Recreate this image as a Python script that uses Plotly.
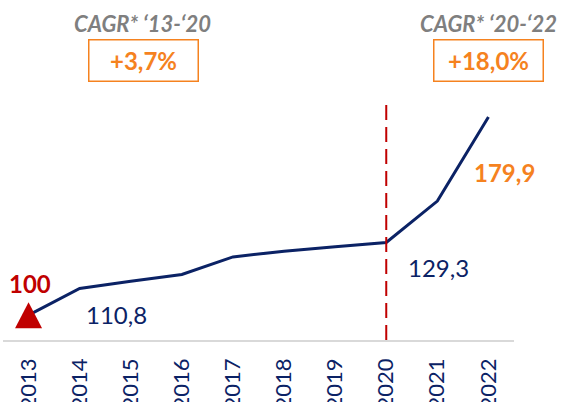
import plotly.graph_objects as go

years = ["2013", "2014", "2015", "2016", "2017", "2018", "2019", "2020", "2021", "2022"]
index_values = [100, 110.8, 113.7, 116.4, 123.5, 125.8, 127.6, 129.3, 146.0, 179.9]
cagr_titles = ["CAGR* \u201813-\u201820", "CAGR* \u201820-\u201822"]
cagr_values = ["+3,7%", "+18,0%"]

NAVY = "#0B2265"
RED = "#C00000"
ORANGE = "#F5821F"
GRAY = "#7F7F7F"
FONT = "Lato, Liberation Sans, sans-serif"

pos = list(range(len(years)))  # category positions

fig = go.Figure()
fig.add_trace(go.Scatter(
    x=pos, y=index_values, mode="lines",
    line=dict(color=NAVY, width=3), hoverinfo="skip", showlegend=False,
))

# start marker: triangle anchored at the first data point (pixel-sized)
fig.add_shape(type="path", xref="x", yref="y",
              xsizemode="pixel", ysizemode="pixel",
              xanchor=pos[0], yanchor=index_values[0],
              path="M-13.5,-13 L13.5,-13 L0,13 Z",
              fillcolor=RED, line=dict(width=0), layer="above")

# dashed separator at 2020
i2020 = years.index("2020")
fig.add_shape(type="line", xref="x", yref="y",
              x0=pos[i2020], x1=pos[i2020], y0=90, y1=187,
              line=dict(color=RED, width=2, dash="15px,7px"))

def fmt(v):
    return (f"{v:.1f}").replace(".", ",")

anns = [
    dict(i=0, text="<b>100</b>", xshift=1, yshift=32, color=RED),
    dict(i=1, text=fmt(index_values[1]), xshift=37, yshift=-26, color=NAVY),
    dict(i=7, text=fmt(index_values[7]), xshift=52, yshift=-25, color=NAVY),
    dict(i=9, text="<b>" + fmt(index_values[9]) + "</b>", xshift=16, yshift=-55, color=ORANGE),
]
for a in anns:
    fig.add_annotation(xref="x", yref="y", x=pos[a["i"]], y=index_values[a["i"]],
                       text=a["text"], xshift=a["xshift"], yshift=a["yshift"],
                       showarrow=False, xanchor="center", yanchor="middle",
                       font=dict(color=a["color"], size=24, family=FONT))

for xp, title in zip([0.2734, 0.951], cagr_titles):
    fig.add_annotation(xref="paper", yref="paper", x=xp, y=1.277, showarrow=False,
                       xanchor="center", yanchor="middle",
                       text="<b><i>" + title + "</i></b>",
                       font=dict(color=GRAY, size=22, family=FONT))

for xp, val in zip([0.2741, 0.9497], cagr_values):
    fig.add_annotation(xref="paper", yref="paper", x=xp, y=1.129, showarrow=False,
                       xanchor="center", yanchor="middle",
                       text="<b>" + val + "</b>", width=108, height=40,
                       bordercolor=ORANGE, borderwidth=1.5, borderpad=0,
                       font=dict(color=ORANGE, size=24, family=FONT))

fig.update_layout(
    width=561, height=402,
    margin=dict(l=3, r=47, t=92, b=62, autoexpand=False),
    paper_bgcolor="white", plot_bgcolor="white",
    xaxis=dict(type="linear", range=[-0.5, 9.5], showgrid=False, zeroline=False,
               tickmode="array", tickvals=pos, ticktext=years, automargin=False,
               showline=True, linecolor="#D9D9D9", linewidth=1.5,
               tickangle=-90, tickfont=dict(color=NAVY, size=22, family=FONT),
               ticks="outside", ticklen=8, tickcolor="rgba(0,0,0,0)"),
    yaxis=dict(range=[90, 190], visible=False, showgrid=False, zeroline=False,
               automargin=False),
)

fig.write_html("out.html", config={"displayModeBar": False},
               post_script="document.body.style.margin='0';")
